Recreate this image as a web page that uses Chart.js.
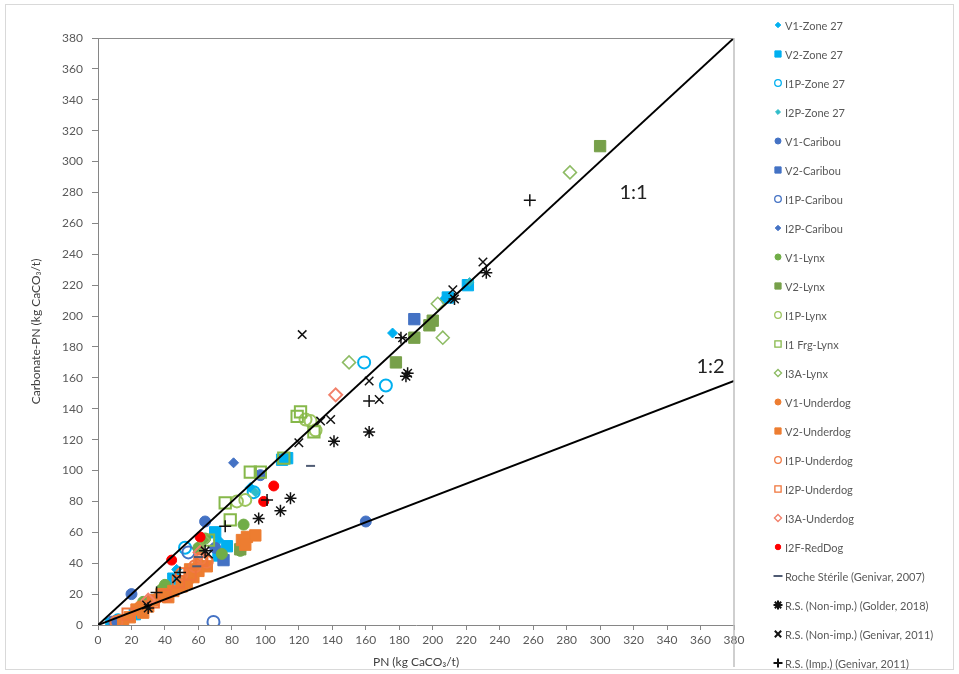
<!DOCTYPE html>
<html>
<head>
<meta charset="utf-8">
<title>PN vs Carbonate-PN</title>
<script src="https://cdn.jsdelivr.net/npm/chart.js@4.4.1/dist/chart.umd.min.js"></script>
<style>
  html, body { margin: 0; padding: 0; background: #fff; }
  #wrap { width: 959px; height: 674px; }
</style>
</head>
<body>
<div id="wrap"><canvas id="pnChart" width="959" height="674"></canvas></div>
<script>
// axis ticks (kg CaCO3/t)
const xTicks = [0, 20, 40, 60, 80, 100, 120, 140, 160, 180, 200, 220, 240, 260, 280, 300, 320, 340, 360, 380];
const yTicks = [0, 20, 40, 60, 80, 100, 120, 140, 160, 180, 200, 220, 240, 260, 280, 300, 320, 340, 360, 380];

// reference lines
const oneToOne = [[0, 0], [380, 380]];
const oneToTwo = [[0, 0], [380, 158]];
const ratioLabels = [['1:1', 320, 280], ['1:2', 366, 167]];

// [PN, Carbonate-PN] per sample group
const v1Zone27 = [[176, 189], [207, 211], [91, 89], [47, 36], [72, 55], [9, 1]];
const v2Zone27 = [[221, 220], [209, 212], [110, 107], [113, 108], [70, 60], [77, 51], [72, 45], [45, 30], [22, 7], [14, 3], [8, 1]];
const i1pZone27 = [[159, 170], [172, 155], [52, 50], [93, 86], [12, 3]];
const i2pZone27 = [[222, 222], [94, 86], [11, 1]];
const v1Caribou = [[160, 67], [64, 67], [20, 20], [97, 97], [70, 50]];
const v2Caribou = [[189, 198], [75, 42], [10, 2]];
const i1pCaribou = [[69, 2], [54, 47]];
const i2pCaribou = [[81, 105]];
const v1Lynx = [[87, 65], [64, 56], [74, 46], [85, 48], [40, 26], [38, 23], [60, 50], [27, 15]];
const v2Lynx = [[300, 310], [198, 194], [200, 197], [189, 186], [178, 170], [85, 49]];
const i1pLynx = [[83, 80], [88, 81], [127, 132], [130, 126], [124, 133]];
const i1FrgLynx = [[119, 135], [121, 138], [91, 99], [97, 99], [76, 79], [79, 68], [111, 108], [129, 125], [66, 55]];
const i3aLynx = [[282, 293], [203, 208], [206, 186], [150, 170], [63, 55]];
const v1Underdog = [[40, 18], [25, 12], [55, 30], [35, 17], [60, 40]];
const v2Underdog = [[89, 57], [94, 58], [86, 55], [88, 52], [55, 36], [57, 31], [53, 27], [50, 25], [45, 22], [38, 20], [33, 16], [23, 10], [27, 8], [19, 5], [15, 3], [30, 12], [42, 18], [60, 35], [65, 38]];
const i1pUnderdog = [[61, 43], [65, 41], [11, 2], [50, 33], [58, 38]];
const i2pUnderdog = [[40, 19], [33, 15], [55, 33], [48, 28], [18, 7], [62, 42]];
const i3aUnderdog = [[142, 149], [61, 47], [30, 16]];
const i2fRedDog = [[105, 90], [99, 80], [61, 57], [44, 42]];
const rocheSterile = [[127, 103], [59, 38], [60, 44]];
const golder2018 = [[232, 228], [213, 211], [184, 161], [185, 163], [162, 125], [141, 119], [115, 82], [109, 74], [96, 69], [64, 48], [30, 11]];
const genivarNonImp = [[230, 235], [212, 217], [182, 186], [162, 158], [168, 146], [139, 133], [133, 132], [122, 188], [120, 118], [66, 46], [47, 30], [29, 13]];
const genivarImp = [[258, 275], [181, 186], [162, 145], [101, 81], [76, 64], [49, 34], [35, 21]];

const FONT = 'Lato, "Liberation Sans", sans-serif';
const GREY = '#595959';

const ZONE = '#00B0F0';
const CARIBOU = '#4472C4';
const LYNX = '#70AD47';
const UNDERDOG = '#ED7D31';

// shape, colour, filled, radius, border width
const series = [
  { label: 'V1-Zone 27', data: v1Zone27, shape: 'rectRot', color: ZONE, fill: true, r: 5 },
  { label: 'V2-Zone 27', data: v2Zone27, shape: 'rect', color: ZONE, fill: true, r: 8 },
  { label: 'I1P-Zone 27', data: i1pZone27, shape: 'circle', color: ZONE, fill: false, r: 6, bw: 2 },
  { label: 'I2P-Zone 27', data: i2pZone27, shape: 'rectRot', color: '#2FBCC9', fill: true, r: 4.5 },
  { label: 'V1-Caribou', data: v1Caribou, shape: 'circle', color: CARIBOU, fill: true, r: 5.5 },
  { label: 'V2-Caribou', data: v2Caribou, shape: 'rect', color: CARIBOU, fill: true, r: 8 },
  { label: 'I1P-Caribou', data: i1pCaribou, shape: 'circle', color: CARIBOU, fill: false, r: 6, bw: 2 },
  { label: 'I2P-Caribou', data: i2pCaribou, shape: 'rectRot', color: CARIBOU, fill: true, r: 5 },
  { label: 'V1-Lynx', data: v1Lynx, shape: 'circle', color: LYNX, fill: true, r: 5.5 },
  { label: 'V2-Lynx', data: v2Lynx, shape: 'rect', color: '#77A04A', fill: true, r: 8 },
  { label: 'I1P-Lynx', data: i1pLynx, shape: 'circle', color: '#9CC45E', fill: false, r: 6, bw: 2 },
  { label: 'I1 Frg-Lynx', data: i1FrgLynx, shape: 'rect', color: '#86B84A', fill: false, r: 8, bw: 2 },
  { label: 'I3A-Lynx', data: i3aLynx, shape: 'rectRot', color: '#8DBB63', fill: false, r: 6.5, bw: 1.5 },
  { label: 'V1-Underdog', data: v1Underdog, shape: 'circle', color: UNDERDOG, fill: true, r: 5.5 },
  { label: 'V2-Underdog', data: v2Underdog, shape: 'rect', color: UNDERDOG, fill: true, r: 8 },
  { label: 'I1P-Underdog', data: i1pUnderdog, shape: 'circle', color: '#F07A45', fill: false, r: 6, bw: 2 },
  { label: 'I2P-Underdog', data: i2pUnderdog, shape: 'rect', color: '#F0743A', fill: false, r: 8, bw: 2 },
  { label: 'I3A-Underdog', data: i3aUnderdog, shape: 'rectRot', color: '#F2806A', fill: false, r: 6.5, bw: 2 },
  { label: 'I2F-RedDog', data: i2fRedDog, shape: 'circle', color: '#FF0000', fill: true, r: 5 },
  { label: 'Roche Stérile (Genivar, 2007)', data: rocheSterile, shape: 'line', color: '#4F5B73', fill: false, r: 4.5, bw: 2 },
  { label: 'R.S. (Non-imp.) (Golder, 2018)', data: golder2018, shape: 'star', color: '#111', fill: false, r: 6, bw: 1.5 },
  { label: 'R.S. (Non-imp.) (Genivar, 2011)', data: genivarNonImp, shape: 'crossRot', color: '#111', fill: false, r: 6, bw: 1.5 },
  { label: 'R.S. (Imp.) (Genivar, 2011)', data: genivarImp, shape: 'cross', color: '#111', fill: false, r: 6, bw: 1.5 }
];

const strokeOnly = ['line', 'star', 'cross', 'crossRot'];

const pointSets = series.map((s, i) => ({
  label: s.label,
  data: s.data,
  showLine: false,
  pointStyle: s.shape,
  pointRadius: s.r,
  pointHoverRadius: s.r,
  pointBackgroundColor: s.fill ? s.color : 'rgba(255,255,255,0)',
  pointBorderColor: s.color,
  pointBorderWidth: s.fill ? 1 : s.bw,
  order: -i
}));

const lineSet = (label, data) => ({
  label: label,
  data: data,
  showLine: true,
  borderColor: '#000',
  borderWidth: 2,
  pointRadius: 0,
  pointHoverRadius: 0,
  order: -100
});

// legend column, frame lines and 1:1 / 1:2 captions
const extras = {
  id: 'extras',
  afterDraw(chart) {
    const ctx = chart.ctx;
    const area = chart.chartArea;
    const xs = chart.scales.x, ys = chart.scales.y;
    ctx.save();

    ctx.strokeStyle = '#D9D9D9';
    ctx.lineWidth = 1;
    ctx.strokeRect(5.5, 4.5, 948, 665);

    ctx.strokeStyle = '#8C8C8C';
    ctx.beginPath();
    ctx.moveTo(area.left, area.top + 0.5);
    ctx.lineTo(area.right, area.top + 0.5);
    ctx.stroke();
    ctx.strokeStyle = '#BFBFBF';
    ctx.lineWidth = 1.5;
    ctx.beginPath();
    ctx.moveTo(area.right, area.top);
    ctx.lineTo(area.right, 667);
    ctx.stroke();

    ctx.fillStyle = '#222';
    ctx.font = '20px ' + FONT;
    ctx.textAlign = 'center';
    ctx.textBaseline = 'middle';
    ratioLabels.forEach(([t, x, y]) => {
      ctx.fillText(t, xs.getPixelForValue(x), ys.getPixelForValue(y));
    });

    ctx.font = '11px ' + FONT;
    ctx.textAlign = 'left';
    series.forEach((s, i) => {
      const y = 25 + i * 29;
      const thin = strokeOnly.includes(s.shape);
      ctx.fillStyle = s.fill ? s.color : 'rgba(255,255,255,0)';
      ctx.strokeStyle = s.color;
      ctx.lineWidth = s.fill ? 1 : (thin ? 2 : 1.3);
      Chart.helpers.drawPoint(ctx, {
        pointStyle: s.shape,
        radius: thin ? 4.5 : s.r * 0.55,
        borderWidth: ctx.lineWidth,
        rotation: 0
      }, 778, y);
      ctx.fillStyle = GREY;
      ctx.fillText(s.label, 785, y + 1);
    });
    ctx.restore();
  }
};

new Chart(document.getElementById('pnChart'), {
  type: 'scatter',
  data: {
    datasets: pointSets.concat([lineSet('1:1', oneToOne), lineSet('1:2', oneToTwo)])
  },
  options: {
    responsive: false,
    animation: false,
    layout: { padding: { top: 38, right: 225, left: 0, bottom: 0 } },
    plugins: {
      legend: { display: false },
      tooltip: { enabled: false }
    },
    scales: {
      x: {
        type: 'linear',
        min: 0,
        max: 380,
        afterBuildTicks: s => { s.ticks = xTicks.map(v => ({ value: v })); },
        afterFit: s => { s.height = 49; },
        ticks: { color: GREY, font: { family: FONT, size: 12 }, padding: 3, maxRotation: 0, autoSkip: false },
        grid: { drawOnChartArea: false, drawTicks: true, tickLength: 5, color: '#868686' },
        border: { color: '#868686' },
        title: { display: true, text: 'PN (kg CaCO₃/t)', color: '#404040', font: { family: FONT, size: 12 }, padding: { top: 0, bottom: 5 } }
      },
      y: {
        type: 'linear',
        min: 0,
        max: 380,
        afterBuildTicks: s => { s.ticks = yTicks.map(v => ({ value: v })); },
        afterFit: s => { s.width = 98; },
        ticks: { color: GREY, font: { family: FONT, size: 12 }, padding: 9, autoSkip: false },
        grid: { drawOnChartArea: false, drawTicks: true, tickLength: 6, color: '#868686' },
        border: { color: '#868686' },
        title: { display: true, text: 'Carbonate-PN (kg CaCO₃/t)', color: '#404040', font: { family: FONT, size: 12 }, padding: { top: 29, bottom: 0 } }
      }
    }
  },
  plugins: [extras]
});
</script>
</body>
</html>
